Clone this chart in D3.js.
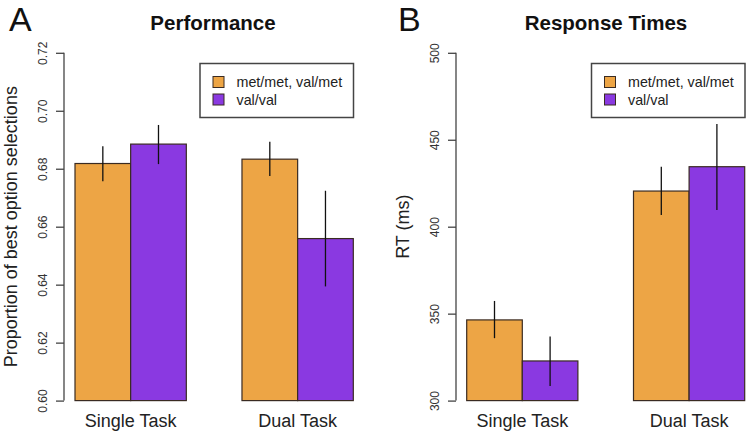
<!DOCTYPE html>
<html>
<head>
<meta charset="utf-8">
<script src="https://cdn.jsdelivr.net/npm/d3@7"></script>
<style>
  html, body { margin: 0; padding: 0; background: #fff; }
  svg { display: block; font-family: "Liberation Sans", Arial, Helvetica, sans-serif; }
</style>
</head>
<body>
<svg id="chart" width="750" height="435"></svg>
<script>
// ---------- data ----------
const groups = ["Single Task", "Dual Task"];
const seriesNames = ["met/met, val/met", "val/val"];
const seriesColors = ["#EDA545", "#8A39E1"];

// Panel A: Performance (proportion of best option selections)
const perfMet    = [0.6818, 0.6833];
const perfVal    = [0.6885, 0.6559];
const perfMetLo  = [0.6757, 0.6775];
const perfMetHi  = [0.6878, 0.6893];
const perfValLo  = [0.6816, 0.6394];
const perfValHi  = [0.6951, 0.6724];
const perfTicks  = [0.60, 0.62, 0.64, 0.66, 0.68, 0.70, 0.72];

// Panel B: Response Times (ms)
const rtMet   = [346.4, 420.5];
const rtVal   = [322.8, 434.5];
const rtMetLo = [335.9, 406.7];
const rtMetHi = [357.3, 434.5];
const rtValLo = [308.4, 409.6];
const rtValHi = [336.8, 459.0];
const rtTicks = [300, 350, 400, 450, 500];

// ---------- drawing ----------
const svg = d3.select("#chart");

function panel(opt) {
  const g = svg.append("g");
  const y = d3.scaleLinear().domain(opt.domain).range([400.6, 52.8]);
  const x0 = d3.scaleBand().domain(groups).range(opt.xRange).paddingInner(1/3).paddingOuter(0);
  const x1 = d3.scaleBand().domain(seriesNames).range([0, x0.bandwidth()]);

  const rows = [];
  groups.forEach((grp, i) => {
    opt.values.forEach((vals, s) => {
      rows.push({grp, s, v: vals[i], lo: opt.lo[s][i], hi: opt.hi[s][i]});
    });
  });

  // bars
  g.selectAll("rect.bar").data(rows).join("rect")
    .attr("class", "bar")
    .attr("x", d => x0(d.grp) + x1(seriesNames[d.s]))
    .attr("width", x1.bandwidth())
    .attr("y", d => y(d.v))
    .attr("height", d => y(opt.domain[0]) - y(d.v))
    .attr("fill", d => seriesColors[d.s])
    .attr("stroke", "#3a2b22")
    .attr("stroke-width", 1.2);

  // error bars
  g.selectAll("line.err").data(rows).join("line")
    .attr("class", "err")
    .attr("x1", d => x0(d.grp) + x1(seriesNames[d.s]) + x1.bandwidth() / 2)
    .attr("x2", d => x0(d.grp) + x1(seriesNames[d.s]) + x1.bandwidth() / 2)
    .attr("y1", d => y(d.lo))
    .attr("y2", d => y(d.hi))
    .attr("stroke", "#111")
    .attr("stroke-width", 1.3);

  // y axis (R style)
  const axis = d3.axisLeft(y).tickValues(opt.ticks).tickFormat(opt.fmt).tickSize(8).tickSizeOuter(0);
  const ag = g.append("g").attr("transform", `translate(${opt.axisX},0)`).call(axis);
  ag.select(".domain").attr("stroke", "#444").attr("stroke-width", 1.3)
    .attr("d", `M0,${y(opt.domain[0])}V${y(opt.domain[1])}`);
  ag.selectAll(".tick line").attr("stroke", "#444").attr("stroke-width", 1.3);
  ag.selectAll(".tick text")
    .attr("x", 0).attr("dy", null)
    .attr("transform", "translate(-17,0) rotate(-90)")
    .attr("text-anchor", "middle")
    .attr("font-size", 12)
    .attr("fill", "#333")
    .attr("font-family", "Liberation Sans, Arial, sans-serif");

  // x category labels
  g.selectAll("text.cat").data(groups).join("text")
    .attr("class", "cat")
    .attr("x", d => x0(d) + x0.bandwidth() / 2)
    .attr("y", 427)
    .attr("text-anchor", "middle")
    .attr("font-size", 18)
    .attr("fill", "#222")
    .text(d => d);

  // y label
  g.append("text")
    .attr("transform", `translate(${opt.ylabX},${(y.range()[0] + y.range()[1]) / 2}) rotate(-90)`)
    .attr("text-anchor", "middle")
    .attr("font-size", 18)
    .attr("fill", "#222")
    .text(opt.ylabel);

  // title
  g.append("text")
    .attr("x", opt.titleX).attr("y", 30)
    .attr("text-anchor", "middle")
    .attr("font-size", 20.5)
    .attr("font-weight", "bold")
    .attr("fill", "#111")
    .text(opt.title);

  // panel letter
  g.append("text")
    .attr("x", opt.letterX).attr("y", 31)
    .attr("font-size", 34)
    .attr("font-family", "Liberation Sans, Arial, sans-serif")
    .attr("fill", "#111")
    .text(opt.letter);

  // legend
  const lg = g.append("g").attr("transform", `translate(${opt.legX},63.5)`);
  lg.append("rect").attr("width", opt.legW).attr("height", 54)
    .attr("fill", "#fff").attr("stroke", "#444").attr("stroke-width", 1.5);
  seriesNames.forEach((n, i) => {
    const cy = 18.5 + i * 17.5;
    lg.append("rect").attr("x", 13).attr("y", cy - 5.5).attr("width", 11).attr("height", 11)
      .attr("fill", seriesColors[i]).attr("stroke", "#3a2b22").attr("stroke-width", 1);
    lg.append("text").attr("x", 36.5).attr("y", cy + 5)
      .attr("font-size", 14.3).attr("fill", "#222").text(n);
  });
}

panel({
  domain: [0.60, 0.72], ticks: perfTicks, fmt: d3.format(".2f"),
  xRange: [75, 353.3], axisX: 64,
  values: [perfMet, perfVal], lo: [perfMetLo, perfValLo], hi: [perfMetHi, perfValHi],
  ylabel: "Proportion of best option selections", ylabX: 17,
  title: "Performance", titleX: 213, letter: "A", letterX: 9,
  legX: 200, legW: 153.5
});

panel({
  domain: [300, 500], ticks: rtTicks, fmt: d3.format("d"),
  xRange: [466.7, 744.7], axisX: 456,
  values: [rtMet, rtVal], lo: [rtMetLo, rtValLo], hi: [rtMetHi, rtValHi],
  ylabel: "RT (ms)", ylabX: 409,
  title: "Response Times", titleX: 606, letter: "B", letterX: 398,
  legX: 591.5, legW: 153.5
});
</script>
</body>
</html>
